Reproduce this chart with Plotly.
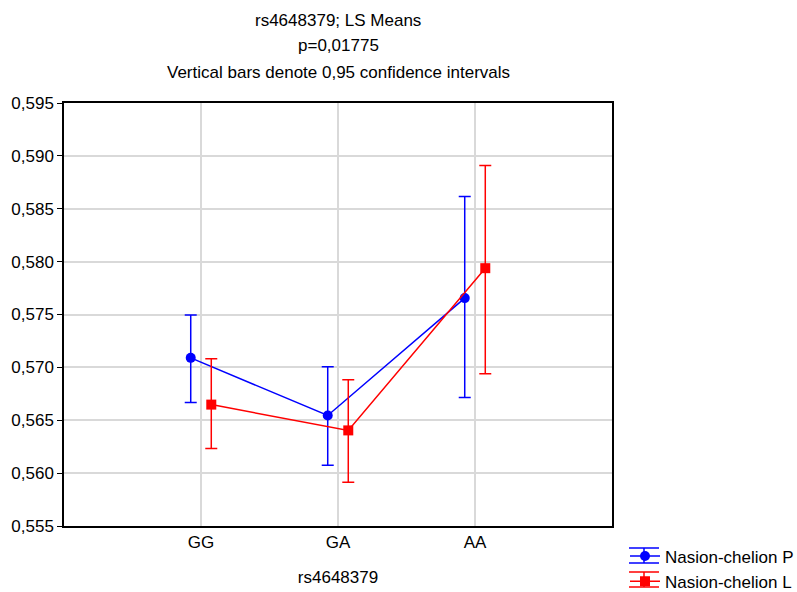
import plotly.graph_objects as go

categories = ["GG", "GA", "AA"]
p_mean = [0.5709, 0.56545, 0.57655]
p_upper = [0.57495, 0.57006, 0.58615]
p_lower = [0.56667, 0.56074, 0.56714]
l_mean = [0.56648, 0.56404, 0.57938]
l_upper = [0.57081, 0.56884, 0.5891]
l_lower = [0.56234, 0.55914, 0.5694]
yticks = [0.555, 0.560, 0.565, 0.570, 0.575, 0.580, 0.585, 0.590, 0.595]

idx = list(range(len(categories)))
off = 0.075

fig = go.Figure()
series = [
    ("Nasion-chelion P", p_mean, p_upper, p_lower, "#0000ff", "circle", -off),
    ("Nasion-chelion L", l_mean, l_upper, l_lower, "#ff0000", "square", off),
]
for name, m, u, lo, col, sym, o in series:
    fig.add_trace(go.Scatter(
        x=[i + o for i in idx], y=m, name=name, mode="lines+markers",
        line=dict(color=col, width=1.5),
        marker=dict(color=col, symbol=sym, size=10),
        error_y=dict(type="data", symmetric=False,
                     array=[a - b for a, b in zip(u, m)],
                     arrayminus=[b - c for b, c in zip(m, lo)],
                     color=col, thickness=1.5, width=6),
    ))

# plot area in pixels
L, R, T, B = 64, 612, 103, 526
W, H = R - L, B - T


def px(xp):
    return (xp - L) / W


def py(yp):
    return (B - yp) / H


fs = 17
font = dict(family="Liberation Sans, Arial, sans-serif", size=fs, color="#000000")
fig.update_layout(
    width=797, height=592,
    margin=dict(l=L, r=797 - R, t=T, b=592 - B, autoexpand=False),
    paper_bgcolor="white", plot_bgcolor="white",
    font=font,
    separators=", ",
    showlegend=True,
    legend=dict(x=px(625), y=py(538.5), xanchor="left", yanchor="top",
                font=dict(size=fs), tracegroupgap=0, itemwidth=30,
                bgcolor="rgba(0,0,0,0)"),
    xaxis=dict(range=[-1, 3], tickmode="array", tickvals=idx, ticktext=categories,
               showgrid=True, gridcolor="#d9d9d9", gridwidth=1.5,
               showline=True, linecolor="#000000", linewidth=1.5, mirror=True,
               ticks="", zeroline=False, automargin=False,
               title=dict(text="rs4648379", font=dict(size=fs), standoff=20)),
    yaxis=dict(range=[0.555, 0.595], tickmode="array", tickvals=yticks,
               tickformat=".3f", showgrid=True, gridcolor="#d9d9d9", gridwidth=1.5,
               showline=True, linecolor="#000000", linewidth=1.5, mirror=True,
               ticks="outside", ticklen=5, tickcolor="#000000", zeroline=False,
               automargin=False),
)

# error-bar look for the legend symbols
for col, yc in [("#0000ff", 555.5), ("#ff0000", 579.5)]:
    for dy in (-7.5, 7.5):
        fig.add_shape(type="line", xref="paper", yref="paper",
                      x0=px(629), x1=px(659), y0=py(yc + dy), y1=py(yc + dy),
                      line=dict(color=col, width=1.5))
    fig.add_shape(type="line", xref="paper", yref="paper",
                  x0=px(644), x1=px(644), y0=py(yc - 7.5), y1=py(yc + 7.5),
                  line=dict(color=col, width=1.5))

titles = ["rs4648379; LS Means", "p=0,01775", "Vertical bars denote 0,95 confidence intervals"]
ys = [20, 46, 73]
for t, yy in zip(titles, ys):
    fig.add_annotation(text=t, xref="paper", yref="paper", x=0.5,
                       y=py(yy), xanchor="center", yanchor="middle",
                       showarrow=False, font=dict(size=fs))

fig.write_html("out.html")
